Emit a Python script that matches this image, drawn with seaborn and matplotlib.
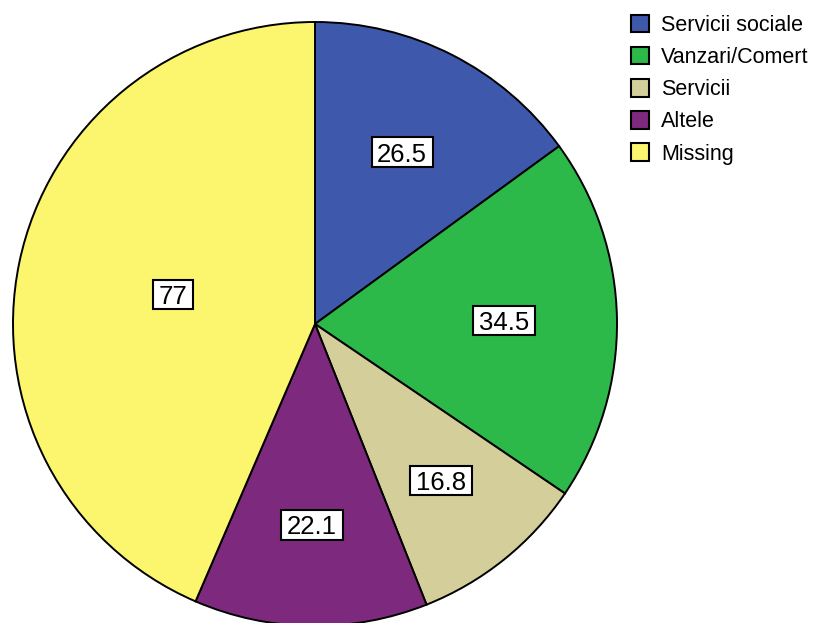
import numpy as np
import matplotlib
matplotlib.use("Agg")
import matplotlib.pyplot as plt
from matplotlib.path import Path
import seaborn as sns

categories = ["Servicii sociale", "Vanzari/Comert", "Servicii", "Altele", "Missing"]
values = [26.5, 34.5, 16.8, 22.1, 77]
labels = ["26.5", "34.5", "16.8", "22.1", "77"]
colors = ["#3e58ac", "#2db84a", "#d4cf9a", "#7d2a7e", "#fbf66e"]
label_radius = [0.637, 0.625, 0.666, 0.666, 0.479]

sns.set_style("white")
plt.rcParams['font.family'] = ['Liberation Sans', 'DejaVu Sans']
plt.rcParams['text.color'] = 'black'

LABEL_FS = 18.5
DESC = 0.21   # descent fraction of em
CAP = 0.716   # digit height fraction of em
PAD = 0.22


def digit_box(x0, y0, width, height, mutation_size):
    # rectangle tightly around the digits (baseline to cap height) plus padding
    pad = PAD * mutation_size
    base = y0 + DESC * mutation_size
    bx0, bx1 = x0 - pad, x0 + width + pad
    by0, by1 = base - pad, base + CAP * mutation_size + pad
    return Path([(bx0, by0), (bx1, by0), (bx1, by1), (bx0, by1), (bx0, by0)],
                closed=True)


W, H = 817, 623
fig = plt.figure(figsize=(W / 100, H / 100), dpi=100)
cx, cy, r = 315, 324, 302
ax = fig.add_axes([(cx - r) / W, (H - cy - r) / H, 2 * r / W, 2 * r / H])

wedges, _ = ax.pie(values, colors=colors, startangle=90, counterclock=False,
                   radius=1, wedgeprops=dict(edgecolor="black", linewidth=1.4),
                   normalize=True)
ax.set_xlim(-1, 1)
ax.set_ylim(-1, 1)
ax.set_aspect("equal")
ax.axis("off")
for w in wedges:
    w.set_clip_on(False)

total = sum(values)
start = 90.0
for v, lab, rr in zip(values, labels, label_radius):
    span = 360.0 * v / total
    mid = np.deg2rad(start - span / 2)
    start -= span
    ax.annotate(lab, xy=(rr * np.cos(mid), rr * np.sin(mid)),
                xytext=(0, -CAP / 2 * LABEL_FS), textcoords="offset points",
                ha="center", va="baseline", fontsize=LABEL_FS, color="black",
                bbox=dict(boxstyle=digit_box, facecolor="white",
                          edgecolor="black", linewidth=1.5))

leg = fig.legend(wedges, categories, loc="upper left",
                 bbox_to_anchor=(630.5 / W, 1 - 14.5 / H), frameon=False,
                 fontsize=15.5, handlelength=0.88, handleheight=0.88,
                 handletextpad=0.55, labelspacing=0.51, borderpad=0,
                 borderaxespad=0, labelcolor="black")
for h in leg.legend_handles:
    h.set_edgecolor("black")
    h.set_linewidth(1.5)

fig.savefig("out.png", dpi=100)
